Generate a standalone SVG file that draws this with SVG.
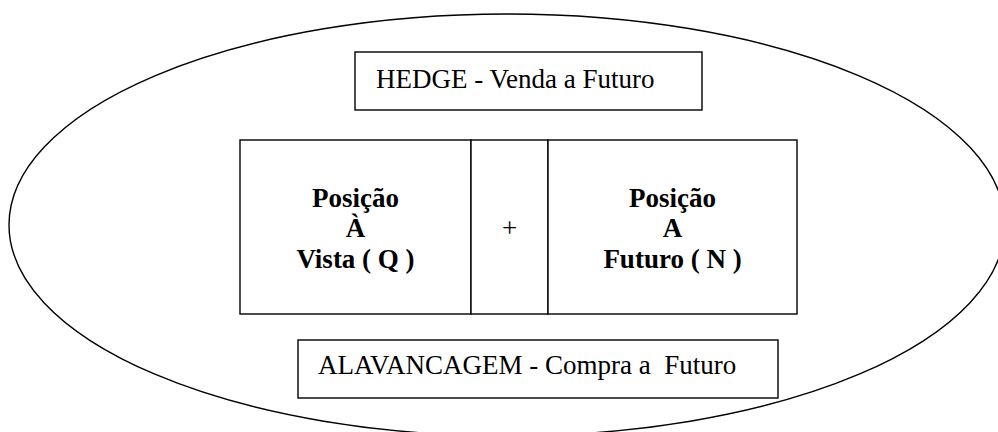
<svg xmlns="http://www.w3.org/2000/svg" width="998" height="432" viewBox="0 0 998 432">
<style>
.shape{fill:#ffffff;stroke:#000000;stroke-width:1.4}
.line{fill:none;stroke:#000000;stroke-width:1.4}
.t{font-family:"Liberation Serif","Times New Roman",serif;font-size:27px;fill:#000000}
.b{font-family:"Liberation Serif","Times New Roman",serif;font-size:27px;font-weight:bold;fill:#000000;text-anchor:middle}
</style>
<rect x="0" y="0" width="998" height="432" fill="#ffffff"/>
<g id="ellipse">
<ellipse class="line" cx="507" cy="225" rx="498" ry="211"/>
</g>
<g id="hedge">
<rect class="shape" x="355" y="52" width="347" height="58"/>
<text class="t" x="376" y="88" xml:space="preserve">HEDGE - Venda a Futuro</text>
</g>
<g id="posicao-vista">
<rect class="shape" x="240" y="140" width="231" height="174"/>
<text class="b" x="355.5" y="207">Posição</text>
<text class="b" x="355.5" y="237">À</text>
<text class="b" x="355.5" y="268">Vista ( Q )</text>
</g>
<g id="plus">
<rect class="shape" x="471" y="140" width="77" height="174"/>
<text class="t" x="509.5" y="237" text-anchor="middle">+</text>
</g>
<g id="posicao-futuro">
<rect class="shape" x="548" y="140" width="249" height="174"/>
<text class="b" x="672.5" y="207">Posição</text>
<text class="b" x="672.5" y="237">A</text>
<text class="b" x="672.5" y="268">Futuro ( N )</text>
</g>
<g id="alavancagem">
<rect class="shape" x="298" y="340" width="480" height="58"/>
<text class="t" x="318" y="374" xml:space="preserve">ALAVANCAGEM - Compra a  Futuro</text>
</g>
<g id="connectors"></g>
</svg>
